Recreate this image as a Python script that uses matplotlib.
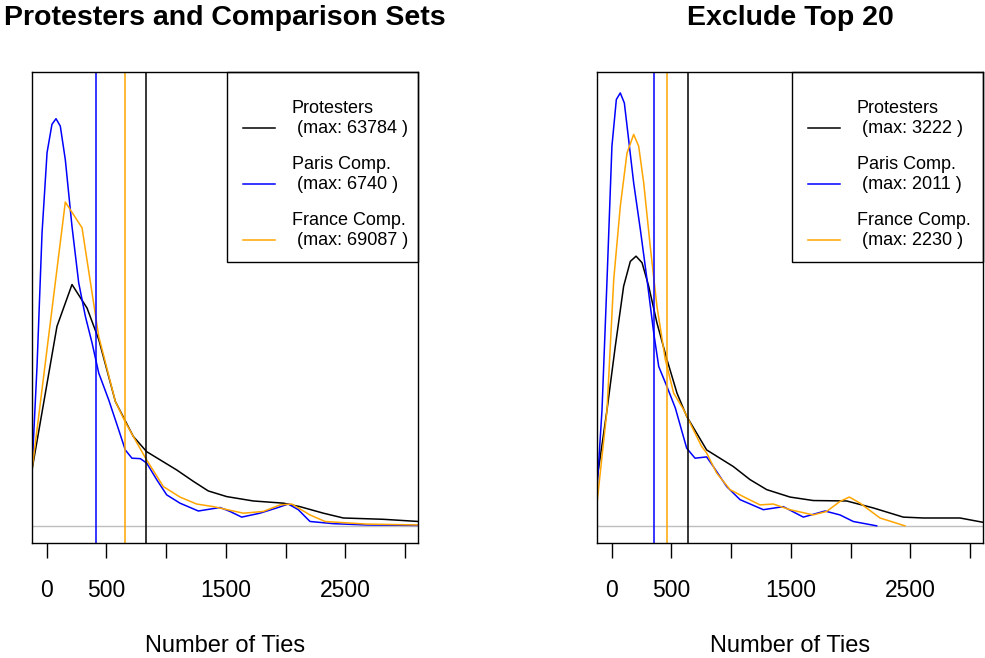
import matplotlib
matplotlib.use("Agg")
import matplotlib.pyplot as plt
from matplotlib.patches import Rectangle

plt.rcParams['font.family'] = ['Liberation Sans', 'DejaVu Sans']

# density curves (x = number of ties, y = relative density)
# left panel: all nodes
all_prot_x = [-123, 86, 212, 338, 436, 575, 725, 837, 1089, 1228, 1353, 1508, 1730,
              1982, 2121, 2317, 2484, 2819, 3112]
all_prot_y = [0.128, 0.457, 0.553, 0.499, 0.427, 0.285, 0.205, 0.170, 0.128, 0.102,
              0.080, 0.067, 0.057, 0.052, 0.044, 0.029, 0.018, 0.015, 0.010]
all_paris_x = [-123, -81, -39, 3, 44, 78, 114, 156, 212, 268, 324, 380, 436, 519, 603,
               658, 714, 784, 837, 921, 1005, 1116, 1270, 1451, 1535, 1633, 1786, 1926,
               2023, 2107, 2205, 2400, 2680, 3112]
all_paris_y = [0.128, 0.365, 0.671, 0.855, 0.920, 0.933, 0.916, 0.839, 0.686, 0.557,
               0.480, 0.419, 0.350, 0.289, 0.220, 0.174, 0.155, 0.154, 0.144, 0.106,
               0.071, 0.052, 0.034, 0.042, 0.033, 0.020, 0.029, 0.041, 0.050, 0.037,
               0.010, 0.005, 0.002, 0.001]
all_france_x = [-123, 156, 296, 436, 575, 656, 725, 837, 977, 1116, 1256, 1396, 1647,
                1814, 1954, 2052, 2205, 2331, 2680, 3112]
all_france_y = [0.128, 0.742, 0.683, 0.434, 0.285, 0.239, 0.205, 0.151, 0.090, 0.066,
                0.050, 0.044, 0.029, 0.033, 0.048, 0.050, 0.025, 0.010, 0.004, 0.002]

# right panel: top 20 excluded
top_prot_x = [-123, -39, 30, 100, 156, 204, 254, 310, 379, 463, 547, 628, 795, 1018,
              1158, 1298, 1493, 1688, 1968, 2191, 2442, 2610, 2917, 3112]
top_prot_y = [0.106, 0.266, 0.411, 0.549, 0.606, 0.618, 0.603, 0.549, 0.465, 0.381,
              0.304, 0.251, 0.174, 0.136, 0.106, 0.083, 0.066, 0.058, 0.057, 0.041,
              0.020, 0.018, 0.018, 0.008]
top_paris_x = [-123, -81, -39, 2, 39, 72, 106, 142, 184, 240, 296, 352, 394, 463, 533,
               628, 698, 795, 851, 963, 1075, 1270, 1437, 1605, 1786, 1912, 2023, 2219]
top_paris_y = [0.083, 0.266, 0.564, 0.870, 0.977, 0.992, 0.969, 0.885, 0.786, 0.679,
               0.564, 0.442, 0.365, 0.319, 0.270, 0.178, 0.155, 0.158, 0.136, 0.090,
               0.060, 0.037, 0.044, 0.020, 0.034, 0.025, 0.010, 0.0]
top_france_x = [-123, -39, 17, 72, 128, 184, 226, 268, 323, 379, 449, 519, 603, 670,
                753, 795, 879, 991, 1102, 1242, 1353, 1493, 1688, 1800, 1912, 1990,
                2080, 2247, 2456]
top_france_y = [0.052, 0.266, 0.564, 0.732, 0.854, 0.897, 0.870, 0.786, 0.640, 0.503,
                0.381, 0.304, 0.266, 0.228, 0.182, 0.167, 0.121, 0.083, 0.067, 0.048,
                0.050, 0.037, 0.025, 0.033, 0.056, 0.066, 0.052, 0.018, 0.0]

# means (vertical lines)
all_means = [829, 415, 653]
top_means = [636, 352, 461]

all_max = [63784, 6740, 69087]
top_max = [3222, 2011, 2230]

names = ['Protesters', 'Paris Comp.', 'France Comp.']
colors = ['black', '#0000FF', '#FFA500']
titles = ['Protesters and Comparison Sets', 'Exclude Top 20']

tick_vals = [0, 500, 1000, 1500, 2000, 2500, 3000]
tick_labs = ['0', '500', '', '1500', '', '2500', '']

fig = plt.figure(figsize=(9.85, 6.58), dpi=100)
ax1 = fig.add_axes([32 / 985, 1 - 543.3 / 658, 386.3 / 985, 471.3 / 658])
ax2 = fig.add_axes([597 / 985, 1 - 543.3 / 658, 386.3 / 985, 471.3 / 658])

panels = [
    (ax1, [(all_prot_x, all_prot_y), (all_paris_x, all_paris_y), (all_france_x, all_france_y)],
     all_means, all_max, titles[0]),
    (ax2, [(top_prot_x, top_prot_y), (top_paris_x, top_paris_y), (top_france_x, top_france_y)],
     top_means, top_max, titles[1]),
]

for ax, curves, means, maxes, title in panels:
    ax.axhline(0, color='#BEBEBE', lw=1.0, zorder=1)
    for (x, y), c in zip(curves, colors):
        ax.plot(x, y, color=c, lw=1.1, zorder=2, solid_joinstyle='round')
    for m, c in zip(means, colors):
        ax.axvline(m, color=c, lw=1.1, zorder=2)
    ax.set_xlim(-123, 3112)
    ax.set_ylim(-0.04, 1.04)
    ax.set_xticks(tick_vals)
    ax.set_xticklabels(tick_labs)
    ax.set_yticks([])
    ax.tick_params(axis='x', direction='out', length=10.8, width=1.0, pad=15,
                   labelsize=16.5)
    for s in ax.spines.values():
        s.set_linewidth(1.0)
    ax.set_title(title, fontsize=20.5, fontweight='bold', pad=34)
    ax.text(0.5, -0.23, 'Number of Ties', transform=ax.transAxes, ha='center',
            va='baseline', fontsize=17)

    # legend box (top right, R style)
    ax.add_patch(Rectangle((0.504, 0.5975), 0.496, 0.4025, transform=ax.transAxes,
                           fill=False, edgecolor='black', lw=1.0, zorder=5,
                           clip_on=False))
    for i, (n, c, mx) in enumerate(zip(names, colors, maxes)):
        ly = 0.881 - i * 0.1188
        ax.plot([0.545, 0.630], [ly, ly], color=c, lw=1.1, transform=ax.transAxes,
                zorder=5)
        ax.text(0.672, ly + 0.031, n, transform=ax.transAxes, va='baseline',
                fontsize=13, zorder=5)
        ax.text(0.672, ly - 0.011, ' (max: %d )' % mx, transform=ax.transAxes,
                va='baseline', fontsize=13, zorder=5)

fig.savefig('out.png', dpi=100)
